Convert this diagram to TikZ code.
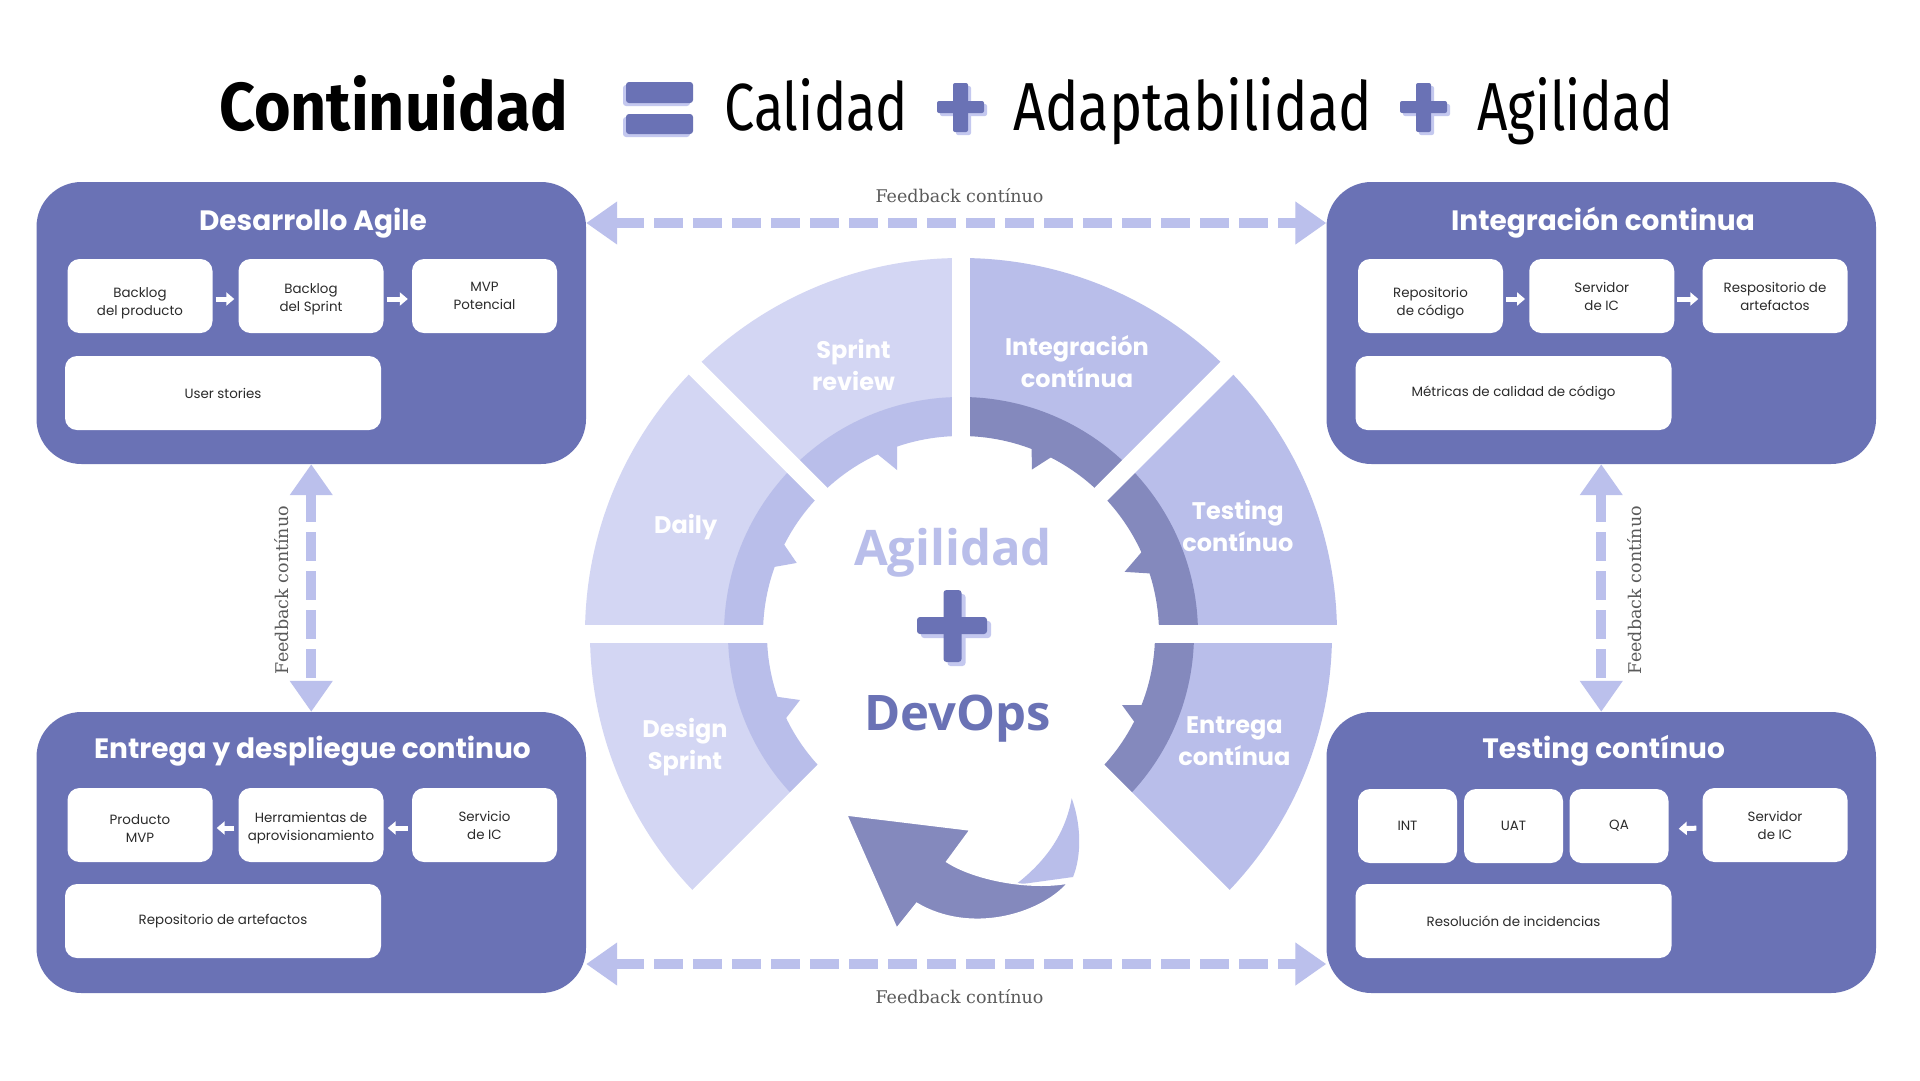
\documentclass[tikz,border=0pt]{standalone}
\usepackage{fontspec}
\usepackage{graphicx}
\usetikzlibrary{arrows.meta}
\setmainfont{Poppins}
\newfontfamily\titlefont{Fira Sans}
\newfontfamily\fbfont{DejaVu Serif}
\newfontfamily\centerfont{Open Sans}

\definecolor{boxblue}{HTML}{6A72B5}
\definecolor{segl}{HTML}{D3D6F3}
\definecolor{segm}{HTML}{B9BEEA}
\definecolor{segd}{HTML}{8489BD}
\definecolor{fbc}{HTML}{BBC0EC}
\definecolor{plusshadow}{HTML}{C4C8EF}
\definecolor{fbtext}{HTML}{5A5A5A}
\definecolor{boxtext}{HTML}{2B2B2B}

\newcommand{\wseg}[5]{\fill[#5] (#1:#4) arc[start angle=#1,end angle=#2,radius=#4] -- (#2:#3) arc[start angle=#2,end angle=#1,radius=#3] -- cycle;}
\newcommand{\wtooth}[7]{\fill[#7] (#1:#2+5) -- (#1:#2) -- (#3:#4) -- (#5:#6) -- (#5:#6+5) -- cycle;}

\tikzset{
  bigbox/.style={fill=boxblue, rounded corners=45pt, minimum width=549.5pt, minimum height=282pt, inner sep=0pt},
  boxtitle/.style={text=white, font=\fontsize{28}{32}\selectfont\bfseries, anchor=base, inner sep=0pt},
  smallbox/.style={fill=white, rounded corners=12pt, minimum width=145pt, minimum height=74pt, inner sep=0pt, align=center, text=boxtext, font=\fontsize{13.4}{18}\selectfont},
  widebox/.style={smallbox, minimum width=316pt},
  tinybox/.style={smallbox, minimum width=99pt},
  sarrow/.style={white, line width=5pt, -{Triangle[length=8pt,width=13pt]}},
  fb/.style={fbc, line width=10pt, dash pattern=on 29pt off 10pt, {Triangle[length=31pt,width=41pt]}-{Triangle[length=31pt,width=41pt]}},
  fblabel/.style={font=\fbfont\fontsize{17.5}{20}\selectfont, text=fbtext, inner sep=0pt},
  segtext/.style={text=white, font=\fontsize{24}{32}\selectfont\bfseries, align=center, inner sep=0pt},
  titleword/.style={anchor=base west, inner sep=0pt},
  centerword/.style={anchor=base, inner sep=0pt, font=\centerfont\bfseries\fontsize{49}{50}\selectfont}
}

\begin{document}
\begin{tikzpicture}[x=1pt,y=-1pt]
\fill[white] (0,0) rectangle (1920,1080);
\useasboundingbox (0,0) rectangle (1920,1080);

% ---------- Title ----------
\node[titleword] (tw1) at (219,130) {\resizebox{349pt}{55pt}{\titlefont\bfseries\fontsize{60}{60}\selectfont Continuidad}};
\fill[plusshadow, rounded corners=3pt] (623,85) rectangle (690,106);
\fill[plusshadow, rounded corners=3pt] (623,117) rectangle (690,137);
\fill[boxblue, rounded corners=3pt] (626,82) rectangle (693,103);
\fill[boxblue, rounded corners=3pt] (626,114) rectangle (693,134);
\node[titleword] (tw2) at (724,130) {\resizebox{184pt}{52pt}{\titlefont\fontsize{60}{60}\selectfont Calidad}};
\fill[plusshadow, rounded corners=2pt] (956,86) rectangle (971,135);
\fill[plusshadow, rounded corners=2pt] (940,104) rectangle (987,116);
\fill[boxblue, rounded corners=2pt] (953,83) rectangle (968,132);
\fill[boxblue, rounded corners=2pt] (937,101) rectangle (984,113);
\node[titleword] (tw3) at (1013,130) {\resizebox{359pt}{53pt}{\titlefont\fontsize{60}{60}\selectfont Adaptabilidad}};
\fill[plusshadow, rounded corners=2pt] (1419,86) rectangle (1434,135);
\fill[plusshadow, rounded corners=2pt] (1403,104) rectangle (1450,116);
\fill[boxblue, rounded corners=2pt] (1416,83) rectangle (1431,132);
\fill[boxblue, rounded corners=2pt] (1400,101) rectangle (1447,113);
\node[titleword] (tw4) at (1477,130) {\resizebox{196pt}{53pt}{\titlefont\fontsize{60}{60}\selectfont Agilidad}};

% ---------- Big boxes ----------
\node[bigbox] (DA) at (311.25,323) {};
\node[bigbox] (IC) at (1601.25,323) {};
\node[bigbox, minimum height=281pt] (ED) at (311.25,852.5) {};
\node[bigbox, minimum height=281pt] (TC) at (1601.25,852.5) {};

\node[boxtitle] (DAt) at (313,230) {Desarrollo Agile};
\node[boxtitle] (ICt) at (1603,230) {Integración continua};
\node[boxtitle] (EDt) at (312.4,758) {Entrega y despliegue continuo};
\node[boxtitle] (TCt) at (1603.6,758) {Testing contínuo};

% Desarrollo Agile
\node[smallbox] (DA1) at (140,296) {\rule{0pt}{24pt}Backlog\\del producto};
\node[smallbox] (DA2) at (311,296) {\rule{0pt}{16pt}Backlog\\del Sprint};
\node[smallbox] (DA3) at (484.5,296) {MVP\\Potencial};
\node[widebox] (DA4) at (223,393) {User stories};
\draw[sarrow, shorten <=3pt, shorten >=4pt] ([yshift=-3pt]DA1.east) -- ([yshift=-3pt]DA2.west);
\draw[sarrow, shorten <=3pt, shorten >=4pt] ([yshift=-3pt]DA2.east) -- ([yshift=-3pt]DA3.west);

% Integracion continua
\node[smallbox] (IC1) at (1430.5,296) {\rule{0pt}{24pt}Repositorio\\de código};
\node[smallbox] (IC2) at (1601.75,296) {Servidor\\de IC};
\node[smallbox] (IC3) at (1775,296) {Respositorio de\\artefactos};
\node[widebox] (IC4) at (1513.5,393) {Métricas de calidad de código};
\draw[sarrow, shorten <=3pt, shorten >=4pt] ([yshift=-3pt]IC1.east) -- ([yshift=-3pt]IC2.west);
\draw[sarrow, shorten <=3pt, shorten >=4pt] ([yshift=-3pt]IC2.east) -- ([yshift=-3pt]IC3.west);

% Entrega y despliegue
\node[smallbox] (ED1) at (140,825) {\rule{0pt}{16pt}Producto\\MVP};
\node[smallbox] (ED2) at (311,825) {\rule{0pt}{16pt}Herramientas de\\aprovisionamiento};
\node[smallbox] (ED3) at (484.5,825) {Servicio\\de IC};
\node[widebox] (ED4) at (223,921) {Repositorio de artefactos};
\draw[sarrow, shorten <=4pt, shorten >=4pt] ([yshift=-3pt]ED3.west) -- ([yshift=-3pt]ED2.east);
\draw[sarrow, shorten <=4pt, shorten >=4pt] ([yshift=-3pt]ED2.west) -- ([yshift=-3pt]ED1.east);

% Testing continuo
\node[tinybox] (TC1) at (1407.5,826) {INT};
\node[tinybox] (TC2) at (1513.5,826) {UAT};
\node[tinybox] (TC3) at (1619,826) {QA};
\node[smallbox] (TC4) at (1775,825) {Servidor\\de IC};
\node[widebox] (TC5) at (1513.5,921) {Resolución de incidencias};
\draw[sarrow, shorten <=6pt, shorten >=10pt] ([yshift=-3pt]TC4.west) -- ([yshift=-3pt]TC3.east);

% ---------- Feedback arrows ----------
\draw[fb] (DA.east |- 0,223) -- (IC.west |- 0,223);
\draw[fb] (ED.east |- 0,964) -- (TC.west |- 0,964);
\draw[fb] (DA.south) -- (ED.north);
\draw[fb] (IC.south) -- (TC.north);
\node[fblabel, anchor=base] (fb1) at (959.5,202) {Feedback contínuo};
\node[fblabel, anchor=base] (fb2) at (959.5,1003) {Feedback contínuo};
\node[fblabel, rotate=90] (fb3) at (282,590) {Feedback contínuo};
\node[fblabel, rotate=90] (fb4) at (1635,590) {Feedback contínuo};

% ---------- Wheel ----------
\begin{scope}[shift={(961,634)}, yscale=-1]
  \wseg{90}{180}{236}{376}{segl}
  \wseg{180}{225}{232}{371}{segl}
  \wseg{0}{90}{236}{376}{segm}
  \wseg{-45}{0}{232}{371}{segm}
  \wseg{90}{180}{198}{237}{segm}
  \wseg{180}{225}{194}{233}{segm}
  \wseg{0}{90}{198}{237}{segd}
  \wseg{-45}{0}{194}{233}{segd}
  \wtooth{108.7}{199}{111.3}{176}{115}{199}{segm}
  \wtooth{152.9}{200}{156.6}{179}{160.5}{200}{segm}
  \wtooth{198.6}{196}{202.3}{174}{205.8}{195}{segm}
  \wtooth{69.3}{200}{66.7}{179}{62.9}{199}{segd}
  \wtooth{24.5}{199}{20.8}{175}{17.6}{200}{segd}
  \wtooth{-20.8}{200}{-23.8}{176}{-27.4}{198}{segd}
  \foreach \a in {0,45,90,135,180,225,315}
    \draw[white, line width=18pt] (\a:140) -- (\a:400);
\end{scope}

\node[segtext] (s1) at (853.5,364.5) {Sprint\\review};
\node[segtext] (s2) at (1077,361.7) {Integración\\contínua};
\node[segtext] (s3) at (685.7,527.5) {Daily};
\node[segtext] (s4) at (1237.8,526) {Testing\\contínuo};
\node[segtext] (s5) at (685,747.5) {Design\\Sprint};
\node[segtext] (s6) at (1234.4,741.6) {Entrega\\contínua};

% ---------- Center ----------
\node[centerword, text=segm] (agil) at (953,565) {Agilidad};
\fill[plusshadow, rounded corners=3pt] (947.5,594) rectangle (965.5,666);
\fill[plusshadow, rounded corners=3pt] (921,621) rectangle (991,638);
\fill[boxblue, rounded corners=3pt] (943.5,590) rectangle (961.5,662);
\fill[boxblue, rounded corners=3pt] (917,617) rectangle (987,634);
\node[centerword, text=boxblue] (devops) at (957.5,730) {DevOps};

% ---------- Curved arrow ----------
\fill[segm] (1015,885) .. controls (1045,862) and (1065,835) .. (1071.7,798.3) .. controls (1083,830) and (1080,860) .. (1073,877) -- cycle;
\path[fill=segd, draw=white, line width=1.5pt] (846.7,815) -- (970,830) -- (946.7,861.7) .. controls (975,880) and (1030,890) .. (1068,883) .. controls (1040,915) and (970,935) .. (916.7,903.3) -- (896.7,928.3) -- cycle;

\end{tikzpicture}
\end{document}
